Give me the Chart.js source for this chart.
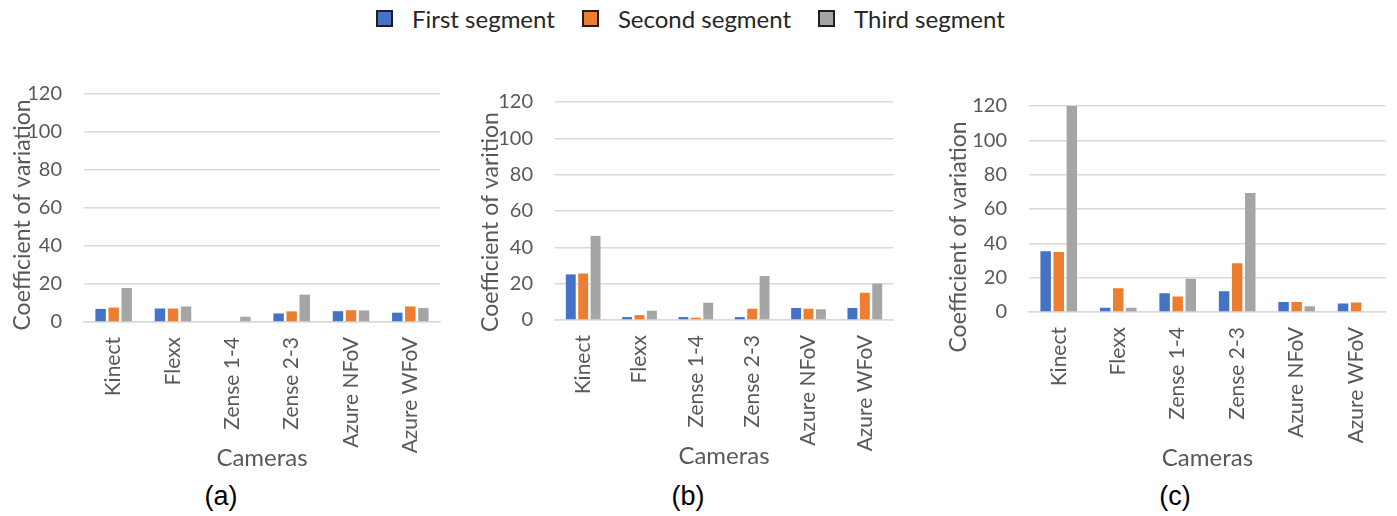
<!DOCTYPE html>
<html>
<head>
<meta charset="utf-8">
<script src="https://cdn.jsdelivr.net/npm/chart.js@4.4.1/dist/chart.umd.min.js"></script>
<style>
  html, body { margin: 0; padding: 0; background: #ffffff; }
  #page { position: relative; width: 1397px; height: 516px; overflow: hidden; font-family: Lato, "Open Sans", sans-serif; }
  canvas { position: absolute; }
  #legend { position: absolute; left: 376px; top: 3px; height: 30px; display: flex; align-items: center; font-size: 24px; color: #262626; white-space: nowrap; }
  .item { display: flex; align-items: center; margin-right: 27px; }
  .swatch { width: 13px; height: 13px; border: 2px solid #1f1f1f; margin-right: 19px; }
  .tag { position: absolute; font-family: "Liberation Sans", Arial, sans-serif; font-size: 27px; color: #000; transform: translate(-50%, -50%); }
</style>
</head>
<body>
<div id="page">
  <div id="legend"></div>
  <canvas id="chartA" width="460" height="420" style="left:0px;top:60px"></canvas>
  <canvas id="chartB" width="450" height="420" style="left:460px;top:60px"></canvas>
  <canvas id="chartC" width="477" height="420" style="left:920px;top:60px"></canvas>
  <div class="tag" style="left:221px;top:496px">(a)</div>
  <div class="tag" style="left:688px;top:496px">(b)</div>
  <div class="tag" style="left:1175px;top:496px">(c)</div>
</div>
<script>
// Cameras on the x axis, shared by all three panels
const cameras = ['Kinect', 'Flexx', 'Zense 1-4', 'Zense 2-3', 'Azure NFoV', 'Azure WFoV'];
const segmentNames = ['First segment', 'Second segment', 'Third segment'];
const segmentColors = ['#4472C4', '#ED7D31', '#A5A5A5'];

// Panel (a)
const aFirst  = [6.9, 7.1, 0.0, 4.5, 5.7, 4.9];
const aSecond = [7.6, 7.1, 0.4, 5.6, 6.2, 8.2];
const aThird  = [17.9, 8.2, 2.8, 14.4, 6.1, 7.3];

// Panel (b)
const bFirst  = [25.1, 1.6, 1.6, 1.6, 6.6, 6.6];
const bSecond = [25.6, 2.7, 1.3, 6.2, 6.2, 15.0];
const bThird  = [46.3, 5.1, 9.5, 24.2, 5.9, 20.0];

// Panel (c)
const cFirst  = [35.4, 2.5, 10.9, 12.1, 5.8, 4.9];
const cSecond = [35.0, 13.8, 9.1, 28.4, 5.8, 5.6];
const cThird  = [120.0, 2.5, 19.3, 69.3, 3.3, 0.0];

// Value axis ticks
const yTickValues = [0, 20, 40, 60, 80, 100, 120];

const textGray = '#595959';
const gridGray = '#d9d9d9';

// Legend built from the series names and colours
const legendEl = document.getElementById('legend');
segmentNames.forEach((name, i) => {
  const item = document.createElement('div');
  item.className = 'item';
  const sw = document.createElement('span');
  sw.className = 'swatch';
  sw.style.background = segmentColors[i];
  const label = document.createElement('span');
  label.textContent = name;
  item.appendChild(sw);
  item.appendChild(label);
  legendEl.appendChild(item);
});

// Rotated value-axis title drawn at a fixed spot on the canvas
const sideTitle = {
  id: 'sideTitle',
  afterDraw(chart, args, opts) {
    const ctx = chart.ctx;
    ctx.save();
    ctx.font = opts.size + 'px Lato, "Open Sans", sans-serif';
    ctx.fillStyle = textGray;
    ctx.textAlign = 'center';
    ctx.textBaseline = 'middle';
    ctx.translate(opts.x, opts.y);
    ctx.rotate(-Math.PI / 2);
    ctx.fillText(opts.text, 0, 0);
    ctx.restore();
  }
};

function makePanel(id, series, cfg) {
  const datasets = series.map((values, i) => ({
    label: segmentNames[i],
    data: values,
    backgroundColor: segmentColors[i],
    borderWidth: 0,
    categoryPercentage: 0.66,
    barPercentage: 0.8
  }));
  return new Chart(document.getElementById(id), {
    type: 'bar',
    data: { labels: cameras, datasets },
    plugins: [sideTitle],
    options: {
      responsive: false,
      animation: false,
      layout: { padding: { left: 0, right: cfg.padRight, top: cfg.padTop, bottom: 0 } },
      plugins: {
        legend: { display: false },
        tooltip: { enabled: false },
        sideTitle: { text: cfg.yTitle, x: cfg.titleX, y: cfg.titleY, size: 23 }
      },
      scales: {
        x: {
          grid: { display: false, drawTicks: false },
          border: { display: true, color: gridGray, width: 1.5 },
          ticks: {
            color: textGray,
            font: { family: 'Lato', size: 21 },
            minRotation: 90,
            maxRotation: 90,
            autoSkip: false,
            padding: 15
          },
          title: {
            display: true,
            text: 'Cameras',
            color: textGray,
            font: { family: 'Lato', size: 24 },
            padding: { top: 0, bottom: cfg.xTitlePad }
          },
          afterFit(scale) { scale.height = cfg.xHeight; }
        },
        y: {
          min: 0,
          max: 120,
          afterBuildTicks(scale) { scale.ticks = yTickValues.map(v => ({ value: v })); },
          grid: { color: gridGray, lineWidth: 1.5, drawTicks: false },
          border: { display: false },
          ticks: {
            color: textGray,
            font: { family: 'Lato', size: 20 },
            padding: 22
          },
          afterFit(scale) { scale.width = cfg.yWidth; }
        }
      }
    }
  });
}

makePanel('chartA', [aFirst, aSecond, aThird], {
  padRight: 20, padTop: 32, yWidth: 84, xHeight: 158, xTitlePad: 7,
  yTitle: 'Coefficient of variation', titleX: 23, titleY: 155
});
makePanel('chartB', [bFirst, bSecond, bThird], {
  padRight: 17, padTop: 42, yWidth: 95, xHeight: 160, xTitlePad: 9,
  yTitle: 'Coefficient of varition', titleX: 31, titleY: 162
});
makePanel('chartC', [cFirst, cSecond, cThird], {
  padRight: 8, padTop: 46, yWidth: 109, xHeight: 168, xTitlePad: 7,
  yTitle: 'Coefficient of variation', titleX: 39, titleY: 177
});
</script>
</body>
</html>
